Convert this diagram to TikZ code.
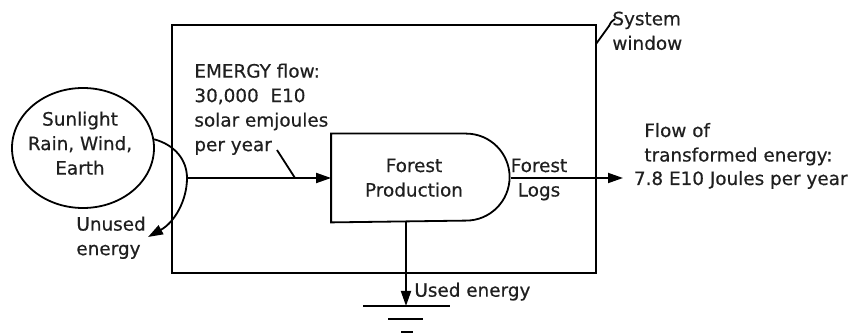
\documentclass[tikz,border=0pt]{standalone}
\usepackage{fontspec}
\setmainfont{DejaVu Sans}[FakeBold=0.5]
\usetikzlibrary{arrows.meta,shapes.geometric}
\begin{document}
\begin{tikzpicture}[x=1pt,y=-1pt,line width=1.8pt,
  txt/.style={font=\fontsize{18.4}{24.5}\selectfont, inner sep=0pt, text=black!88},
  flowarrow/.style={-{Triangle[length=15pt,width=10pt]}}]
\useasboundingbox (0,0) rectangle (860,336);
% system window
\node[draw, minimum width=424pt, minimum height=248pt, inner sep=0pt] (win) at (384,149) {};
\node[txt, align=left, anchor=north west] (wintext) at (611.5,10.7) {System\\window};
\coordinate (wl1) at (596,44);
\coordinate (wl2) at (615,19);
\draw (wl1) -- (609,26) .. controls (611,22) .. (wl2);
% source
\node[draw, ellipse, minimum width=142pt, minimum height=120pt, inner sep=0pt] (src) at (83,148) {};
\node[txt, align=center, anchor=north] (srctext) at (80,110.7) {Sunlight\\Rain, Wind,\\Earth};
% production
\node[minimum width=178pt, minimum height=87pt, inner sep=0pt] (prod) at (421,178) {};
\draw (prod.north west) -- ++(135,0) arc[start angle=-90,end angle=90,radius=43.5] -- (prod.south west) -- cycle;
\node[txt, align=center, anchor=north] (prodtext) at (414,157.7) {Forest\\Production};
% flows
\coordinate (split) at (187,178);
\coordinate (unused) at (148,237);
\draw[flowarrow] (split) -- (prod.west);
\draw[flowarrow] (src.7) .. controls (175,145) and (187,160) .. (split) .. controls (187,200) and (175,222) .. (unused);
\node[txt, align=left, anchor=north west] (unusedtext) at (75.5,215.7) {Unused\\energy};
\node[txt, align=left, anchor=north west] (emergy) at (193.5,62.7) {EMERGY flow:\\30,000~~E10\\solar emjoules\\per year};
\coordinate (lead1) at (277,150);
\coordinate (lead2) at (295,178);
\draw (lead1) -- (lead2);
% output
\coordinate (outEnd) at (623,178);
\draw[flowarrow] (prod.east) -- (outEnd);
\node[txt, align=center, anchor=north] (logs) at (539,157.7) {Forest\\Logs};
\node[txt, anchor=base west] (flow1) at (643.5,137) {Flow of};
\node[txt, anchor=base west] (flow2) at (643.5,161.5) {transformed energy:};
\node[txt, anchor=base west] (flow3) at (633,185) {7.8 E10 Joules per year};
% used energy / ground
\coordinate (gnd) at (406,306);
\draw[flowarrow] (prod.south -| gnd) -- (gnd);
\node[txt, anchor=base west] (usedtext) at (413.5,296.7) {Used energy};
\draw (363,306) -- (450,306);
\draw (388,319) -- (423,319);
\draw (401,332) -- (413,332);
\end{tikzpicture}
\end{document}
